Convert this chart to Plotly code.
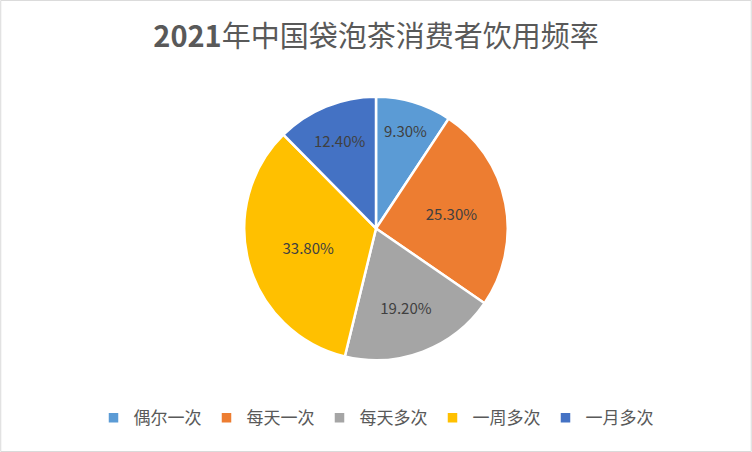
import plotly.graph_objects as go

# Data
labels = ['偶尔一次', '每天一次', '每天多次', '一周多次', '一月多次']
values = [9.3, 25.3, 19.2, 33.8, 12.4]
colors = ['#5B9BD5', '#ED7D31', '#A5A5A5', '#FFC000', '#4472C4']

fig = go.Figure()

fig.add_trace(go.Pie(
    labels=labels,
    values=values,
    sort=False,
    direction='clockwise',
    rotation=0,
    marker=dict(colors=colors, line=dict(color='white', width=2.5)),
    texttemplate='%{value:.2f}%',
    textposition='inside',
    insidetextorientation='horizontal',
    textfont=dict(family='Noto Sans CJK SC', size=15, color='#404040'),
    hoverinfo='label+value',
    domain=dict(x=[0, 1], y=[0.203, 0.786]),
))

fig.update_layout(
    width=752,
    height=452,
    margin=dict(l=0, r=0, t=0, b=0),
    paper_bgcolor='white',
    title=dict(
        text='<b>2021</b>年中国袋泡茶消费者饮用频率',
        x=0.5, xanchor='center',
        y=0.918, yanchor='middle',
        font=dict(family='Noto Sans CJK SC', size=29, color='#595959'),
    ),
    legend=dict(
        orientation='h',
        x=0.5, xanchor='center',
        y=0.075, yanchor='middle',
        font=dict(family='Noto Sans CJK SC', size=17, color='#595959'),
        itemwidth=30,
        traceorder='normal',
    ),
    shapes=[dict(
        type='rect', xref='paper', yref='paper',
        x0=0.001, y0=0.001, x1=0.999, y1=0.999,
        line=dict(color='#D9D9D9', width=1),
    )],
)

fig.write_html("out.html", config={'displayModeBar': False},
               post_script="document.body.style.margin='0';")
